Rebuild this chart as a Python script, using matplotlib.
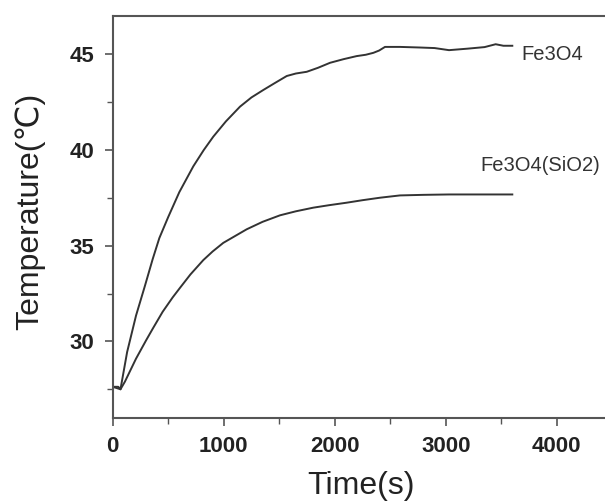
import matplotlib.pyplot as plt
from matplotlib.ticker import MultipleLocator

plt.rcParams['font.family'] = ['Liberation Sans', 'DejaVu Sans']

# heating curves, time in s, temperature in deg C
t_fe3o4 = [0, 50, 70, 130, 210, 290, 360, 420, 500, 600, 726, 820, 906, 1020,
           1147, 1250, 1357, 1460, 1568, 1650, 1748, 1850, 1958, 2080, 2198,
           2280, 2348, 2400, 2453, 2588, 2760, 2900, 3030, 3200, 3350, 3450,
           3520, 3600]
temp_fe3o4 = [27.63, 27.63, 27.5, 29.45, 31.35, 32.9, 34.3, 35.4, 36.5, 37.8,
              39.15, 40.0, 40.7, 41.5, 42.27, 42.75, 43.14, 43.5, 43.87, 44.0,
              44.09, 44.3, 44.56, 44.75, 44.91, 44.98, 45.08, 45.2, 45.39,
              45.39, 45.36, 45.33, 45.22, 45.3, 45.38, 45.53, 45.45, 45.45]

t_sio2 = [0, 70, 110, 210, 300, 360, 450, 540, 606, 700, 816, 900, 996, 1100,
          1207, 1350, 1507, 1650, 1807, 1950, 2108, 2250, 2408, 2588, 2800,
          3030, 3300, 3600]
temp_sio2 = [27.63, 27.5, 27.9, 29.1, 30.05, 30.66, 31.55, 32.3, 32.8, 33.5,
             34.25, 34.7, 35.15, 35.5, 35.86, 36.25, 36.59, 36.8, 36.99, 37.12,
             37.25, 37.38, 37.51, 37.63, 37.66, 37.68, 37.68, 37.68]

fig = plt.figure(figsize=(6.05, 5.03), dpi=100)
ax = fig.add_axes([0.1863, 0.169, 0.8256, 0.799])

ink = '#333333'
ax.plot(t_fe3o4, temp_fe3o4, color=ink, lw=1.4)
ax.plot(t_sio2, temp_sio2, color=ink, lw=1.4)

ax.text(3685, 44.70, 'Fe3O4', fontsize=14.5, color=ink, va='baseline')
ax.text(3309, 38.88, 'Fe3O4(SiO2)', fontsize=14.5, color=ink, va='baseline')

ax.set_xlim(0, 4500)
ax.set_ylim(26, 47)
ax.xaxis.set_major_locator(MultipleLocator(1000))
ax.xaxis.set_minor_locator(MultipleLocator(500))
ax.yaxis.set_major_locator(MultipleLocator(5))
ax.yaxis.set_minor_locator(MultipleLocator(2.5))
ax.set_yticks([30, 35, 40, 45])

for s in ax.spines.values():
    s.set_linewidth(1.5)
    s.set_color('#555555')
ax.tick_params(which='major', direction='out', length=6, width=1.2,
               color='#555555', pad=7, labelsize=16, labelcolor='#222222')
ax.tick_params(which='minor', direction='out', length=4, width=1.0,
               color='#555555')
for lab in ax.get_xticklabels() + ax.get_yticklabels():
    lab.set_fontweight('bold')

fig.text(30 / 605, 1 - 211 / 503, 'Temperature(\u2103)', rotation=90,
         ha='center', va='center', fontsize=23, color='#222222')
fig.text(361 / 605, 0.018, 'Time(s)', ha='center', va='baseline',
         fontsize=23, color='#222222')

fig.savefig('out.png', dpi=100)
